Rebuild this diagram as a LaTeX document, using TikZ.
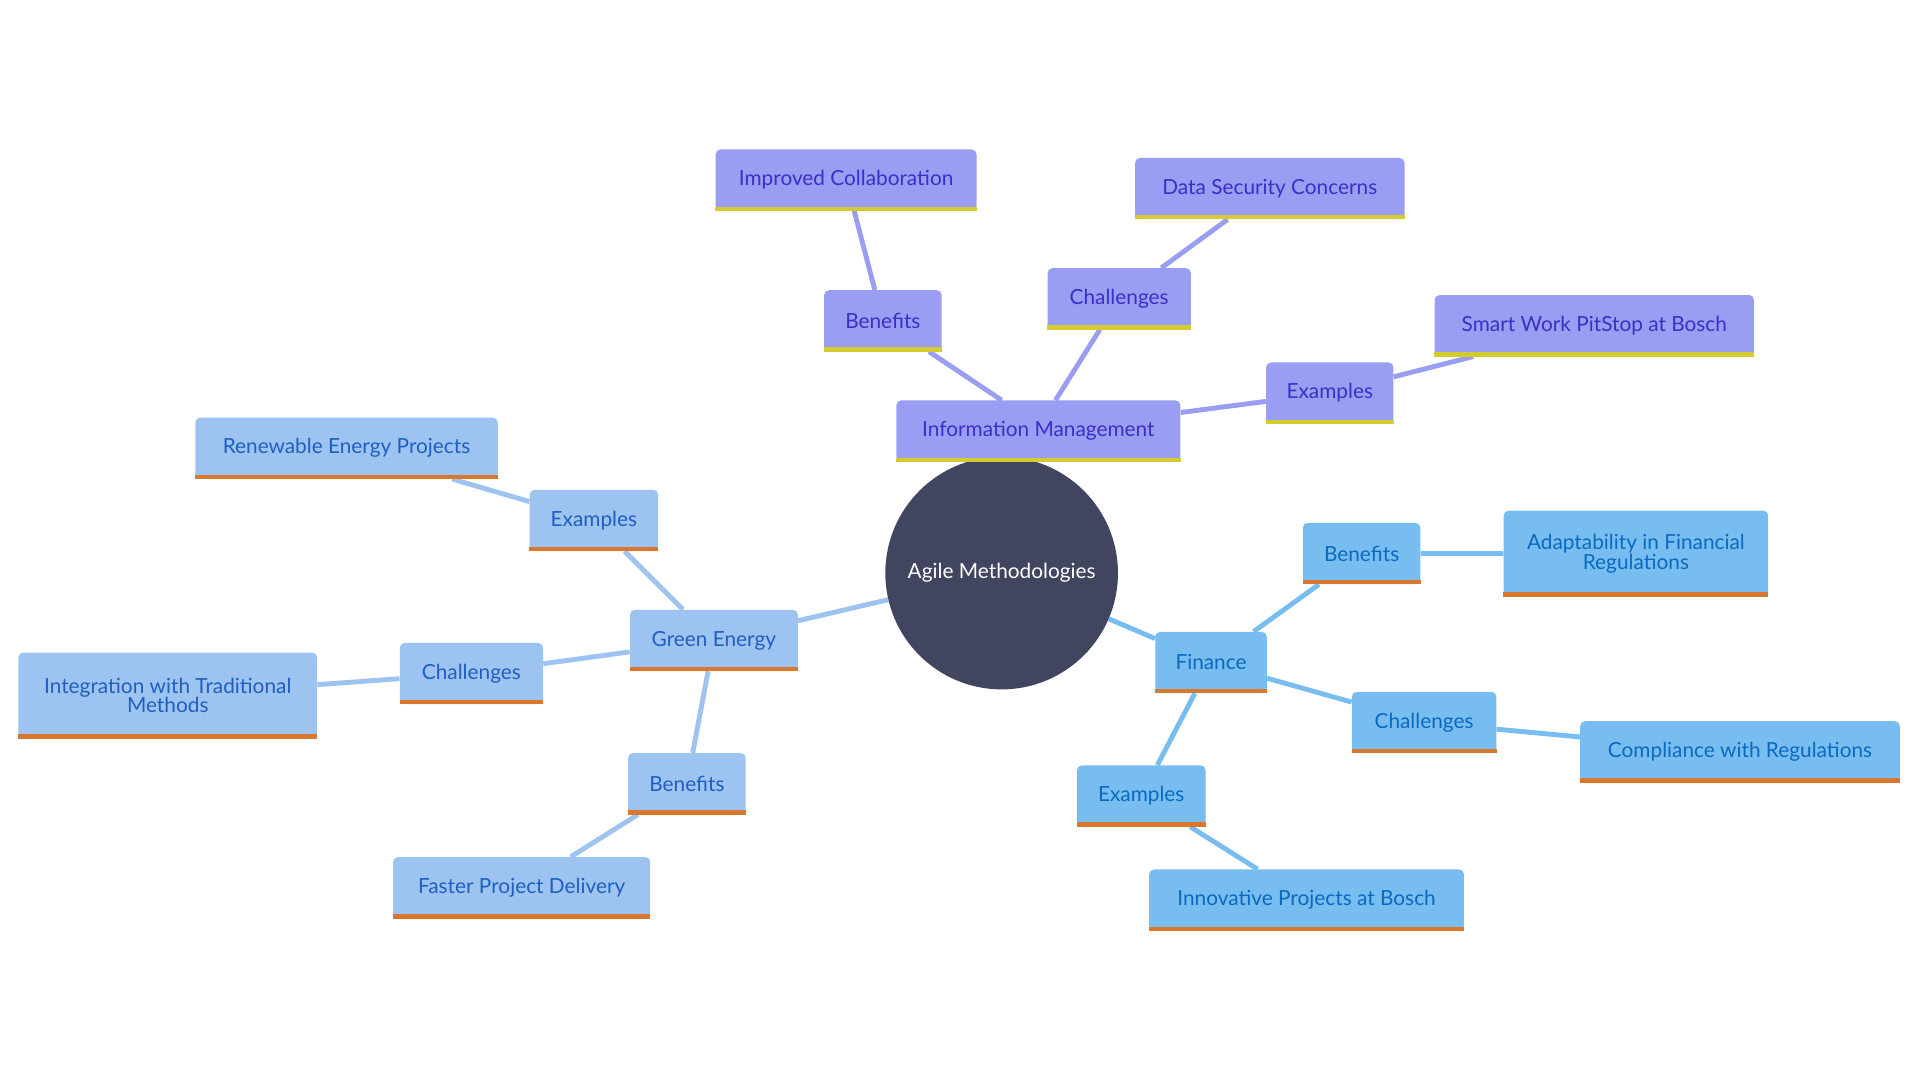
\documentclass[tikz,border=0pt]{standalone}
\usepackage{fontspec}
\setmainfont{Lato}
\usetikzlibrary{backgrounds}
\definecolor{imf}{HTML}{9A9EF2}\definecolor{imt}{HTML}{3A30C8}\definecolor{imb}{HTML}{D4CB2E}
\definecolor{gef}{HTML}{9DC3F0}\definecolor{get}{HTML}{1F5FC0}\definecolor{geb}{HTML}{D9772E}
\definecolor{fif}{HTML}{78BDF0}\definecolor{fit}{HTML}{0A69C0}
\definecolor{core}{HTML}{414560}
\tikzset{
 box/.style={rectangle,rounded corners=4pt,inner sep=0pt,align=center,font=\fontsize{17}{19}\selectfont},
 im/.style={box,fill=imf,text=imt},
 ge/.style={box,fill=gef,text=get},
 fi/.style={box,fill=fif,text=fit},
 imline/.style={imf,line width=4pt},
 geline/.style={gef,line width=4pt},
 filine/.style={fif,line width=4pt},
}
\newcommand{\mynode}[7]{%
 \node[#6,minimum width=#3pt,minimum height=#4pt] (#1) at (#2) {#5};
 \draw[#7,line width=3.5pt] ([yshift=1.75pt]#1.south west) -- ([yshift=1.75pt]#1.south east);}
\begin{document}
\begin{tikzpicture}[x=1pt,y=-1pt]
\useasboundingbox (0,0) rectangle (1568,882);
\node[circle,fill=core,minimum size=190pt,inner sep=0pt,text=white,font=\fontsize{17}{19}\selectfont] (c) at (818,468) {Agile Methodologies};
\mynode{im}{848,352}{232}{50}{Information Management}{im}{imb}
\mynode{imb1}{721,262}{96}{50}{Benefits}{im}{imb}
\mynode{imb2}{691,147}{213}{50}{Improved Collaboration}{im}{imb}
\mynode{imc1}{914,244}{117}{50}{Challenges}{im}{imb}
\mynode{imc2}{1037,154}{220}{50}{Data Security Concerns}{im}{imb}
\mynode{ime1}{1086,321}{104}{50}{Examples}{im}{imb}
\mynode{ime2}{1302,266}{261}{50}{Smart Work PitStop at Bosch}{im}{imb}
\mynode{ge}{583,523}{137}{50}{Green Energy}{ge}{geb}
\mynode{gee1}{485,425}{105}{50}{Examples}{ge}{geb}
\mynode{gee2}{283,366}{247}{50}{Renewable Energy Projects}{ge}{geb}
\mynode{gec1}{385,550}{117}{50}{Challenges}{ge}{geb}
\mynode{gec2}{137,568}{244}{70}{Integration with Traditional\\[-3pt]Methods}{ge}{geb}
\mynode{geb1}{561,640}{96}{50}{Benefits}{ge}{geb}
\mynode{geb2}{426,725}{210}{50}{Faster Project Delivery}{ge}{geb}
\mynode{fi}{989,541}{91}{50}{Finance}{fi}{geb}
\mynode{fib1}{1112,452}{96}{50}{Benefits}{fi}{geb}
\mynode{fib2}{1336,452}{216}{70}{Adaptability in Financial\\[-3pt]Regulations}{fi}{geb}
\mynode{fic1}{1163,590}{118}{50}{Challenges}{fi}{geb}
\mynode{fic2}{1421,614}{261}{50}{Compliance with Regulations}{fi}{geb}
\mynode{fie1}{932,650}{105}{50}{Examples}{fi}{geb}
\mynode{fie2}{1067,735}{257}{50}{Innovative Projects at Bosch}{fi}{geb}
\begin{scope}[on background layer]
\draw[imline] (c) -- (im);
\draw[imline] ([xshift=-30pt]im.north) -- (imb1) -- (imb2);
\draw[imline] ([xshift=14pt]im.north) -- (imc1) -- (imc2);
\draw[imline] (im) -- (ime1) -- (ime2);
\draw[geline] (c) -- (ge);
\draw[geline] (ge) -- (gee1) -- (gee2);
\draw[geline] (ge) -- (gec1) -- (gec2);
\draw[geline] (ge) -- (geb1) -- (geb2);
\draw[filine] (c) -- (fi);
\draw[filine] (fi) -- (fib1) -- (fib2);
\draw[filine] (fi) -- (fic1) -- (fic2);
\draw[filine] (fi) -- (fie1) -- (fie2);
\end{scope}
\end{tikzpicture}
\end{document}
